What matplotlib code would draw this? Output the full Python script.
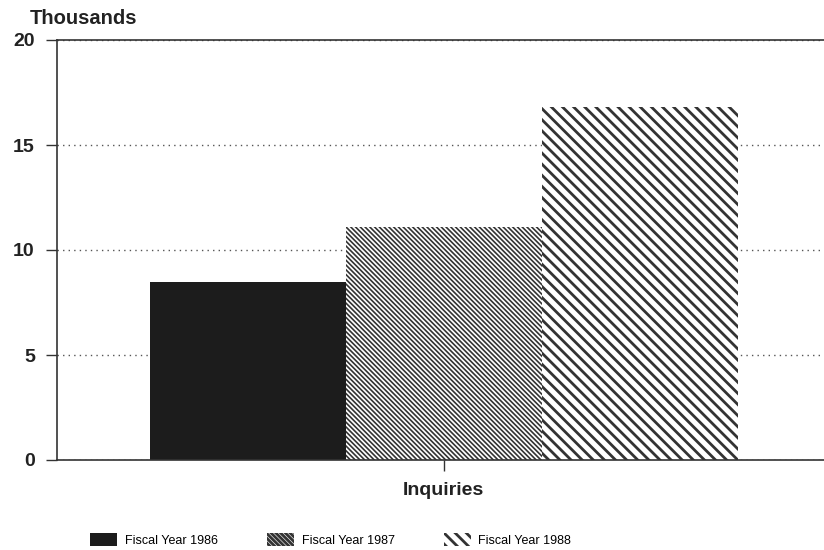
import matplotlib
matplotlib.use("Agg")
import matplotlib.pyplot as plt
from matplotlib.patches import Patch

# данные
categories = ["Inquiries"]
series = ["Fiscal Year 1986", "Fiscal Year 1987", "Fiscal Year 1988"]
values = [8.5, 11.1, 16.8]
yticks = [0, 5, 10, 15, 20]

plt.rcParams['font.family'] = ['Liberation Sans', 'DejaVu Sans']

fig = plt.figure(figsize=(8.24, 5.5), dpi=100)
ax = fig.add_axes([57 / 824, 90 / 550, 1 - 57 / 824, 420 / 550])

styles = [
    dict(facecolor="#1c1c1c", edgecolor="#1c1c1c", hatch=None, hlw=1.0),
    dict(facecolor="white", edgecolor="#333333", hatch="\\" * 7, hlw=1.2),
    dict(facecolor="white", edgecolor="#333333", hatch="\\" * 3, hlw=2.0),
]

offsets = [-1, 0, 1]
handles = []
for off, val, name, st in zip(offsets, values, series, styles):
    plt.rcParams['hatch.linewidth'] = st["hlw"]
    ax.bar(off, val, width=1.0, facecolor=st["facecolor"], edgecolor=st["edgecolor"],
           hatch=st["hatch"], linewidth=0, zorder=2)
    handles.append(Patch(facecolor=st["facecolor"], edgecolor=st["edgecolor"],
                         hatch=st["hatch"], linewidth=0, label=name))

ax.set_xlim(-1.972, 1.941)
ax.set_ylim(0, 20)
ax.set_yticks(yticks)
ax.set_xticks([0])
ax.set_xticklabels(categories)

for s in ["left", "top", "bottom"]:
    ax.spines[s].set_color("#333333")
    ax.spines[s].set_linewidth(1.2)
ax.spines["right"].set_visible(False)

ax.tick_params(axis="both", direction="out", length=8, width=1, colors="#333333",
               labelsize=14, labelcolor="#222222")
for lab in ax.get_yticklabels() + ax.get_xticklabels():
    lab.set_fontweight("bold")
ax.tick_params(axis="y", pad=8)
ax.tick_params(axis="x", pad=8)

ax.yaxis.grid(True, linestyle=(0, (1, 3)), color="#555555", linewidth=1.0, zorder=0)
ax.set_axisbelow(True)

ax.text(-0.035, 1.028, "Thousands", transform=ax.transAxes, fontsize=14.5,
        fontweight="bold", color="#222222", ha="left", va="bottom")

fig.legend(handles=handles, loc="center left", bbox_to_anchor=(90 / 824, 10 / 550), ncol=3,
           frameon=False, handlelength=2.16, handleheight=1.15, borderpad=0, borderaxespad=0,
           columnspacing=3.9, handletextpad=0.64, prop={"size": 9})

fig.savefig("out.png", dpi=100)
